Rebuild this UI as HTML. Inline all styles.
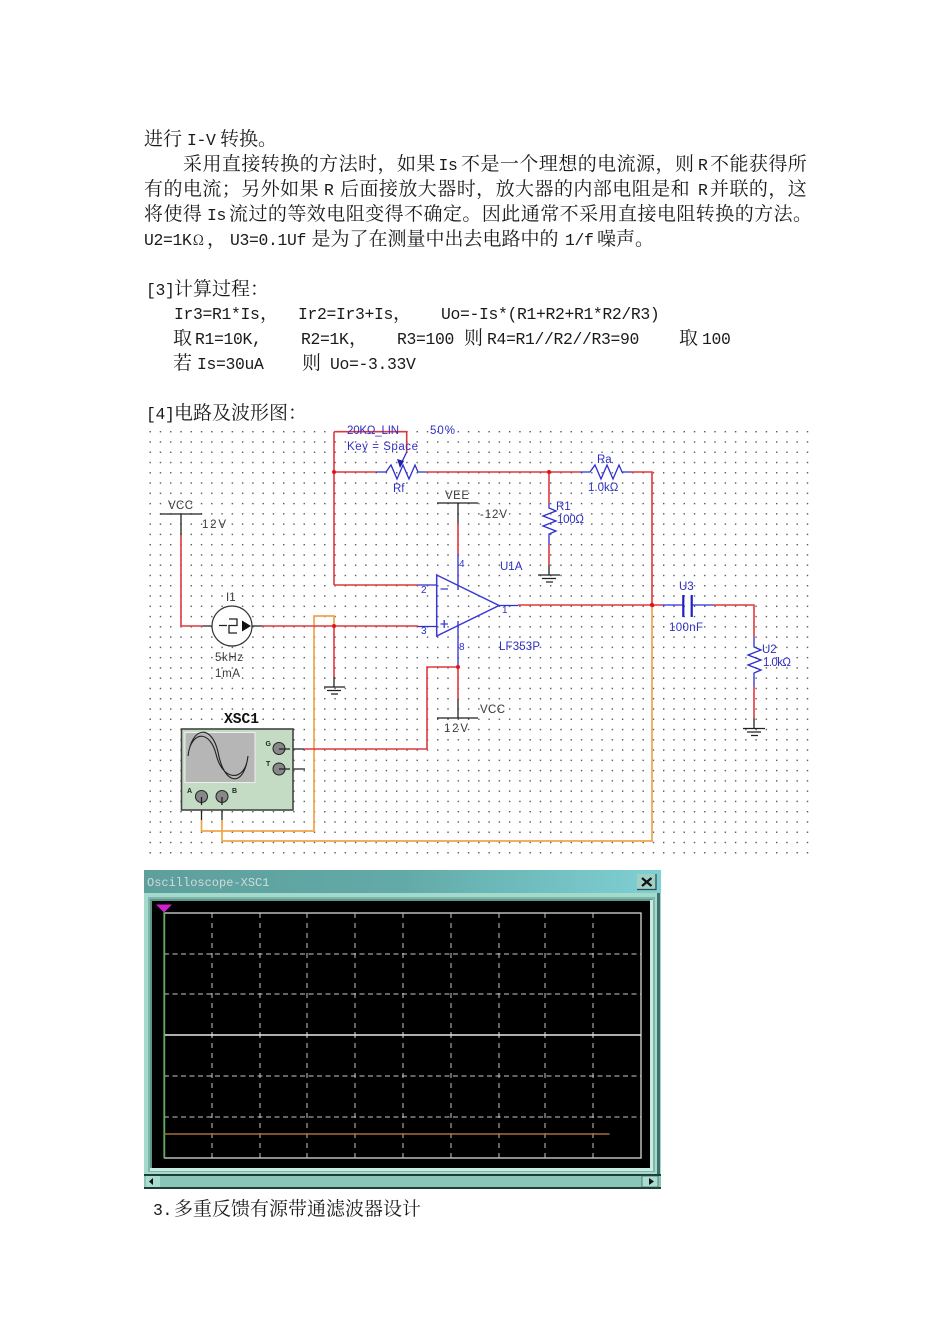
<!DOCTYPE html>
<html><head><meta charset="utf-8"><style>
html,body{margin:0;padding:0;background:#fff}
svg{display:block}
.t{font-family:"Noto Serif CJK SC","Liberation Serif",serif;font-size:19px;fill:#1a1a1a}
.t .l{font-family:"Liberation Mono",monospace;font-size:16.4px;letter-spacing:-.34px}
.j{letter-spacing:.45px}
.b{font-family:"Liberation Sans",sans-serif;font-size:11.5px;fill:#2f2fc4}
.k{font-family:"Liberation Sans",sans-serif;font-size:11.5px;fill:#3a3a3a}
.r{fill:none;stroke:#e0383e;stroke-width:1.6}
.bl{fill:none;stroke:#2d2dd0;stroke-width:1.3}
.n{fill:none;stroke:#222;stroke-width:1.3}
.o{fill:none;stroke:#f0a54a;stroke-width:1.7}
</style></head><body>
<svg width="950" height="1344" viewBox="0 0 950 1344" xmlns="http://www.w3.org/2000/svg">
<defs>
<pattern id="d" x="149.5" y="431" width="10.27" height="10.27" patternUnits="userSpaceOnUse"><rect x="0" y="0" width="1.4" height="1.4" fill="#555"/></pattern>
<linearGradient id="tb" x1="0" x2="1" y1="0" y2="0"><stop offset="0" stop-color="#5e9f9c"/><stop offset="0.5" stop-color="#62aaa8"/><stop offset="1" stop-color="#7fd0d4"/></linearGradient>
</defs>
<rect width="950" height="1344" fill="#fff"/>

<g class="t">
<text y="145"><tspan x="144">进行</tspan><tspan class="l" x="187">I-V</tspan><tspan x="220">转换。</tspan></text>
<text y="170" class="j"><tspan x="183">采用直接转换的方法时，如果</tspan><tspan class="l" x="438.5">Is</tspan><tspan x="461">不是一个理想的电流源，则</tspan><tspan class="l" x="698">R</tspan><tspan x="710">不能获得所</tspan></text>
<text y="195" class="j"><tspan x="144">有的电流；另外如果</tspan><tspan class="l" x="324">R</tspan><tspan x="340">后面接放大器时，放大器的内部电阻是和</tspan><tspan class="l" x="698">R</tspan><tspan x="710">并联的，这</tspan></text>
<text y="220" class="j"><tspan x="144">将使得</tspan><tspan class="l" x="207">Is</tspan><tspan x="229">流过的等效电阻变得不确定。因此通常不采用直接电阻转换的方法。</tspan></text>
<text y="245"><tspan class="l" x="144">U2=1K</tspan><tspan x="193" style="font-size:14px">Ω</tspan><tspan x="207">，</tspan><tspan class="l" x="230">U3=0.1Uf</tspan><tspan x="311.5">是为了在测量中出去电路中的</tspan><tspan class="l" x="565">1/f</tspan><tspan x="597">噪声。</tspan></text>
<text y="295"><tspan class="l" x="146">[3]</tspan><tspan x="174">计算过程：</tspan></text>
<text y="319"><tspan class="l" x="174">Ir3=R1*Is</tspan><tspan x="260">，</tspan><tspan class="l" x="298">Ir2=Ir3+Is</tspan><tspan x="393">，</tspan><tspan class="l" x="441">Uo=-Is*(R1+R2+R1*R2/R3)</tspan></text>
<text y="344"><tspan x="173">取</tspan><tspan class="l" x="195">R1=10K,</tspan><tspan class="l" x="301">R2=1K</tspan><tspan x="349">，</tspan><tspan class="l" x="397">R3=100</tspan><tspan x="464">则</tspan><tspan class="l" x="487">R4=R1//R2//R3=90</tspan><tspan x="679">取</tspan><tspan class="l" x="702">100</tspan></text>
<text y="369"><tspan x="173">若</tspan><tspan class="l" x="197">Is=30uA</tspan><tspan x="302">则</tspan><tspan class="l" x="330">Uo=-3.33V</tspan></text>
<text y="419"><tspan class="l" x="146">[4]</tspan><tspan x="174">电路及波形图：</tspan></text>
<text y="1215"><tspan class="l" x="153">3.</tspan><tspan x="174">多重反馈有源带通滤波器设计</tspan></text>
</g>

<!-- schematic -->
<rect x="147" y="428" width="662" height="426" fill="url(#d)"/>

<!-- orange wires -->
<path class="o" d="M334 626V616H314V831H201.5V820M222 820V841H652V605"/>
<!-- red wires -->
<path class="r" d="M181 535V626H203M262 626H418M334 626V677M334 472H376M426 472H580M631 472H652V605M334 585V472M334 431.7H406.7V452M334 472V431.7M334 585H418M549 472V503M549 545V565M458 523V554M458 667V699M458 667H427V749H304M518 605H662M713 605H754V637M754 687V718"/>
<!-- black wires -->
<path class="n" d="M160 514H202M181 514V535M203 626H212M252 626H262M437 503H478M458 503V523M437 718H478M458 699V718M280 749H304M280 769H305M201.5 800V820M222 800V820M334 677V687M324 687H345M327 690.5H341M331 694H338M549 565V575M538 575H560M542 578.5H556M546 582H553M754 718V728.5M743 728.5H765M747 732H761M751 735.5H758" />
<!-- blue parts -->
<path class="bl" d="M376 472H386L391 465L397 479L403 465L409 479L415 465L418 472H426M580 472H590L595 465L601 479L607 465L613 479L619 465L622 472H631M549 503V508L556 511L543 516L556 521L543 526L556 531L549 534V545M754 637V647L761 650L748 655L761 660L748 665L761 670L754 673V687M406.7 452L400 466M418 585H437M418 626.5H437M458 554V590M458 621V667M499 605.5H518M662 605H683M692 605H713"/>
<path d="M436.7 575L499 605.5L436.7 636Z" fill="none" stroke="#3a3ad8" stroke-width="1.5"/>
<path d="M683.3 595V617M691.7 595V617" stroke="#2020c8" stroke-width="2.2" fill="none"/>
<path d="M400 468L397 459L404 461Z" fill="#2020a0"/>
<path d="M440.5 589H448M440.5 624H448M444.2 620V628" stroke="#3a3ad8" stroke-width="1.3" fill="none"/>

<!-- junctions -->
<g fill="#e01515"><circle cx="334" cy="472" r="2"/><circle cx="549" cy="472" r="2"/><circle cx="334" cy="626" r="2"/><circle cx="652" cy="605" r="2.2"/><circle cx="458" cy="667" r="2"/></g>

<!-- current source -->
<circle cx="232" cy="626" r="20" fill="#fff" stroke="#333" stroke-width="1.2"/>
<path d="M219 625.5H227M229 619H237V625.5H229V633H237" fill="none" stroke="#222" stroke-width="1.3"/>
<path d="M242 620.5L251 626L242 631.5Z" fill="#111"/>

<!-- oscilloscope symbol -->
<rect x="181.5" y="729" width="111.5" height="81" fill="#c4dcc4" stroke="#444" stroke-width="1.6"/>
<rect x="185" y="732.5" width="70" height="50" fill="#b6b6b6" stroke="#eee" stroke-width="1"/>
<path d="M188 756C192 725 212 725 218 752C224 786 244 788 248 756M189 750C194 731 210 731 216 754C222 780 242 782 247 762" fill="none" stroke="#222" stroke-width="1.1"/>
<g fill="#888" stroke="#222" stroke-width="1"><circle cx="279" cy="748.5" r="6"/><circle cx="279" cy="769" r="6"/><circle cx="201.5" cy="796.5" r="6"/><circle cx="222" cy="796.5" r="6"/></g>
<path class="n" d="M279 749H290M279 769H290M201.5 797V805M222 797V805"/>
<text x="265.5" y="746" font-family="Liberation Sans" font-size="7" font-weight="bold" fill="#222">G</text>
<text x="266" y="766" font-family="Liberation Sans" font-size="7" font-weight="bold" fill="#222">T</text>
<text x="187" y="793" font-family="Liberation Sans" font-size="7" font-weight="bold" fill="#222">A</text>
<text x="232" y="793" font-family="Liberation Sans" font-size="7" font-weight="bold" fill="#222">B</text>
<text x="224" y="723" font-family="Liberation Mono" font-size="14.6" font-weight="bold" fill="#111">XSC1</text>

<!-- labels -->
<text class="b" x="347" y="434" textLength="52">20KΩ_LIN</text>
<text class="b" x="430" y="434" textLength="25">50%</text>
<text class="b" x="347" y="450" textLength="71">Key = Space</text>
<text class="b" x="393" y="492">Rf</text>
<text class="b" x="597" y="463">Ra</text>
<text class="b" x="588" y="491">1.0kΩ</text>
<text class="b" x="556" y="510">R1</text>
<text class="b" x="557" y="523" textLength="27">100Ω</text>
<text class="b" x="500" y="570">U1A</text>
<text class="b" x="499" y="650" textLength="41">LF353P</text>
<text class="b" x="679" y="590">U3</text>
<text class="b" x="669" y="631" textLength="34">100nF</text>
<text class="b" x="762" y="653">U2</text>
<text class="b" x="763" y="666" textLength="28">1.0kΩ</text>
<text class="b" x="459" y="567" style="font-size:10px">4</text>
<text class="b" x="421" y="593" style="font-size:10px">2</text>
<text class="b" x="421" y="634" style="font-size:10px">3</text>
<text class="b" x="459" y="650" style="font-size:10px">8</text>
<text class="b" x="502" y="613" style="font-size:10px">1</text>
<text class="k" x="168" y="509" textLength="25">VCC</text>
<text class="k" x="202" y="528" textLength="24">12V</text>
<text class="k" x="445" y="499" textLength="24">VEE</text>
<text class="k" x="480" y="518" textLength="27">-12V</text>
<text class="k" x="226" y="601">I1</text>
<text class="k" x="215" y="661" textLength="28">5kHz</text>
<text class="k" x="215" y="677" textLength="25">1mA</text>
<text class="k" x="444" y="732" textLength="24">12V</text>
<text class="k" x="480" y="713" textLength="25">VCC</text>

<!-- oscilloscope window -->
<rect x="144" y="870" width="517" height="319" fill="#a3dacb"/>
<rect x="144" y="870" width="517" height="23" fill="url(#tb)"/>
<text x="147" y="886" font-family="Liberation Mono" font-size="12" fill="#cfdcd8">Oscilloscope-XSC1</text>
<rect x="637" y="874" width="19" height="15.5" fill="#9fd0c6"/>
<path d="M637 889.5H656V874" fill="none" stroke="#2c4a48" stroke-width="1.2"/>
<path d="M642 878L651.5 886M651.5 878L642 886" stroke="#111" stroke-width="2.2"/>
<rect x="148" y="897" width="507" height="275" fill="#7fb7aa"/>
<rect x="150" y="899" width="502" height="271" fill="#5f948c"/>
<rect x="152" y="901" width="498" height="267" fill="#000"/>
<path d="M651.5 900V1169.5H150" stroke="#c9ece2" stroke-width="3" fill="none"/>
<rect x="657" y="893" width="3" height="282" fill="#3f6f6a"/>
<rect x="164.5" y="913" width="476.5" height="245" fill="none" stroke="#d8d8d8" stroke-width="1.3"/>
<path d="M212 913V1158M260 913V1158M307 913V1158M355 913V1158M403 913V1158M451 913V1158M499 913V1158M545 913V1158M593 913V1158" stroke="#c8c8c8" stroke-width="1" stroke-dasharray="5 5" fill="none"/>
<path d="M164 954H641M164 994H641M164 1076H641M164 1117H641" stroke="#c8c8c8" stroke-width="1" stroke-dasharray="5 3.5" fill="none"/>
<path d="M164 1035H641" stroke="#e8e8e8" stroke-width="1.4" fill="none"/>
<path d="M212 1032V1038M260 1032V1038M307 1032V1038M355 1032V1038M403 1032V1038M451 1032V1038M499 1032V1038M545 1032V1038M593 1032V1038" stroke="#e8e8e8" stroke-width="1" fill="none"/>
<path d="M164 1134H609.5" stroke="#a86c3c" stroke-width="1.5" fill="none"/>
<path d="M164 911V1158" stroke="#3f9a3f" stroke-width="1.5" fill="none"/>
<path d="M156 904.5H172L164 912.5Z" fill="#d020d0"/>
<!-- scrollbar -->
<rect x="144" y="1174" width="517" height="2" fill="#1f3d3a"/>
<rect x="144" y="1176" width="517" height="12" fill="#8ac6b8"/>
<rect x="144" y="1187" width="517" height="2" fill="#1f3d3a"/>
<rect x="146" y="1176" width="14" height="11" fill="#a8ddcf"/>
<rect x="642" y="1176" width="16" height="11" fill="#a8ddcf" stroke="#2c4a48" stroke-width="0.6"/>
<path d="M153 1178V1185L149 1181.5Z" fill="#111"/>
<path d="M649 1178V1185L654 1181.5Z" fill="#111"/>
</svg>
</body></html>
